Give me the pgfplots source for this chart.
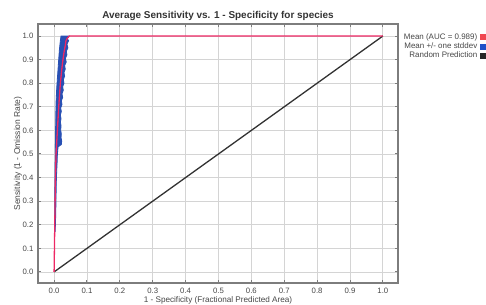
\documentclass[border=0pt]{standalone}
\usepackage{pgfplots}
\pgfplotsset{compat=1.18}
\usepackage{fontspec}
\setmainfont{Liberation Sans}
\definecolor{meanred}{RGB}{238,40,100}
\definecolor{bandblue}{RGB}{40,80,180}
\definecolor{legred}{RGB}{240,70,80}
\definecolor{legblue}{RGB}{30,80,200}
\definecolor{gridgray}{RGB}{212,212,212}
\definecolor{framegray}{RGB}{125,125,125}
\definecolor{textgray}{RGB}{70,70,70}
\definecolor{diag}{RGB}{50,50,50}
\begin{document}
\begin{tikzpicture}
\useasboundingbox (0,0) rectangle (486bp,305bp);
\begin{axis}[
 at={(38bp,22bp)}, anchor=south west,
 scale only axis, width=360bp, height=259bp,
 xmin=-0.049, xmax=1.046, ymin=-0.047, ymax=1.051,
 xtick={0,0.1,0.2,0.3,0.4,0.5,0.6,0.7,0.8,0.9,1.0},
 ytick={0,0.1,0.2,0.3,0.4,0.5,0.6,0.7,0.8,0.9,1.0},
 grid=major, major grid style={gridgray, line width=0.8bp},
 axis line style={framegray, line width=1.5bp},
 tick style={framegray, line width=1bp}, major tick length=3bp,
 tick align=inside,
 /pgf/number format/assume math mode=true,
 ticklabel style={font=\fontsize{7.8}{9}\selectfont, text=textgray},
 xticklabel style={yshift=-2bp, /pgf/number format/.cd, fixed, fixed zerofill, precision=1},
 yticklabel style={xshift=-1bp, /pgf/number format/.cd, fixed, fixed zerofill, precision=1},
 xlabel={1 - Specificity (Fractional Predicted Area)},
 xlabel style={at={(axis description cs:0.5,-0.0676)}, anchor=center, font=\fontsize{8.2}{10}\selectfont, text=textgray},
 ylabel={Sensitivity (1 - Omission Rate)},
 ylabel style={at={(axis description cs:-0.056,0.5)}, anchor=center, font=\fontsize{8.5}{10}\selectfont, text=textgray},
 every axis title shift=0pt,
 title={Average Sensitivity vs. 1 - Specificity for species},
 title style={at={(axis description cs:0.5,1.031)}, anchor=center, font=\bfseries\fontsize{10}{12}\selectfont, text=black!80},
 legend style={at={(axis description cs:1.244,0.968)}, anchor=north east, draw=none, fill=none,
   font=\fontsize{8}{9}\selectfont, text=textgray, inner sep=0pt, row sep=0bp,
   nodes={inner sep=1bp},
   /tikz/every odd column/.append style={column sep=2bp}},
 legend cell align=right, legend plot pos=right,
]
% band
\addplot[draw=bandblue, fill=bandblue, line width=0.8bp, forget plot] coordinates {
(0.002,0.17)(0.002,0.30)(0.003,0.45)(0.004,0.55)(0.005,0.65)(0.006,0.72)(0.008,0.78)(0.010,0.82)(0.012,0.86)(0.014,0.90)(0.016,0.94)(0.019,0.98)(0.021,1.0)
(0.046,1.0)(0.040,0.99)(0.044,0.98)(0.039,0.965)(0.042,0.95)(0.037,0.935)(0.039,0.92)(0.034,0.905)(0.037,0.89)(0.032,0.875)(0.034,0.86)(0.030,0.845)(0.032,0.83)(0.028,0.815)(0.030,0.80)(0.026,0.785)(0.028,0.77)(0.024,0.755)(0.026,0.74)(0.022,0.725)(0.024,0.71)(0.020,0.695)(0.022,0.68)(0.019,0.665)(0.021,0.65)(0.019,0.635)(0.021,0.62)(0.020,0.60)(0.022,0.585)(0.021,0.57)(0.023,0.555)(0.022,0.54)(0.012,0.53)(0.010,0.50)(0.009,0.46)(0.007,0.40)(0.006,0.33)(0.005,0.25)(0.004,0.20)(0.003,0.17)
} -- cycle;
% random
\addplot[diag, line width=1.3bp, forget plot] coordinates {(0,0)(1,1)};
% mean
\addplot[meanred, line width=1.3bp, forget plot] coordinates {
(0,0)(0.001,0.1)(0.002,0.2)(0.003,0.3)(0.004,0.4)(0.006,0.5)(0.010,0.6)(0.014,0.7)(0.019,0.8)(0.025,0.88)(0.030,0.93)(0.034,0.96)(0.036,0.98)(0.040,0.99)(0.046,1.0)(1,1)};
\addlegendimage{legend image code/.code={\fill[legred] (0bp,-2.5bp) rectangle (5bp,2.5bp);}}
\addlegendentry{Mean (AUC = 0.989)}
\addlegendimage{legend image code/.code={\fill[legblue] (0bp,-2.5bp) rectangle (5bp,2.5bp);}}
\addlegendentry{Mean +/- one stddev}
\addlegendimage{legend image code/.code={\fill[black!85] (0bp,-2.5bp) rectangle (5bp,2.5bp);}}
\addlegendentry{Random Prediction}
\end{axis}
\end{tikzpicture}
\end{document}
